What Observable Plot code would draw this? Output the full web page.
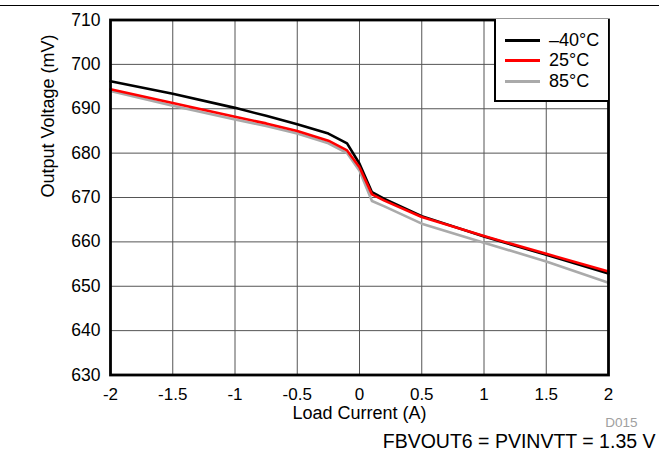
<!DOCTYPE html>
<html>
<head>
<meta charset="utf-8">
<script src="https://cdn.jsdelivr.net/npm/d3@7"></script>
<script src="https://cdn.jsdelivr.net/npm/@observablehq/plot@0.6"></script>
<style>
  html, body { margin: 0; padding: 0; background: #fff; }
  #wrap { position: relative; width: 671px; height: 462px; font-family: "Liberation Sans", Arial, sans-serif; }
  #topline { position: absolute; left: 0; top: 4.5px; width: 659px; height: 0; border-top: 1.8px solid #000; }
  #legend { position: absolute; left: 494px; top: 19px; width: 114px; height: 83px; border: 2.6px solid #000; border-top: none; border-right: none; background: #fff; box-sizing: border-box; }
  .item { position: absolute; left: 9px; height: 20px; display: flex; align-items: center; font-size: 18px; color: #000; }
  .sw { display: inline-block; width: 35px; height: 0; border-top: 3px solid; margin-right: 9px; }
</style>
</head>
<body>
<div id="wrap">
  <div id="topline"></div>
  <div id="chart"></div>
  <div id="legend"></div>
</div>
<script>
const xs = [-2, -1.5, -1, -0.75, -0.5, -0.25, -0.1, 0, 0.1, 0.2, 0.5, 1, 1.5, 2];
const vMinus40 = [696.2, 693.4, 690.2, 688.4, 686.5, 684.4, 682.2, 677.6, 671.2, 669.7, 665.8, 661.2, 657.1, 652.9];
const v25 = [694.4, 691.3, 688.2, 686.7, 685.0, 682.8, 680.6, 676.8, 670.7, 669.3, 665.6, 661.3, 657.3, 653.3];
const v85 = [694.0, 690.7, 687.6, 686.1, 684.4, 682.2, 680.0, 676.0, 669.2, 668.0, 664.1, 659.8, 655.6, 650.8];

const seriesNames = ["\u201340\u00b0C", "25\u00b0C", "85\u00b0C"];
const seriesColors = ["#000000", "#ff0000", "#aaaaaa"];
const drawOrder = [2, 0, 1];

const xTicks = [-2, -1.5, -1, -0.5, 0, 0.5, 1, 1.5, 2];
const xTickLabels = ["-2", "-1.5", "-1", "-0.5", "0", "0.5", "1", "1.5", "2"];
const yTicks = [630, 640, 650, 660, 670, 680, 690, 700, 710];
const yTickLabels = ["630", "640", "650", "660", "670", "680", "690", "700", "710"];

const xTitle = "Load Current (A)";
const yTitle = "Output Voltage (mV)";
const codeText = "D015";
const captionText = "FBVOUT6 = PVINVTT = 1.35 V";

const allSeries = [vMinus40, v25, v85];
const rows = [];
for (const s of drawOrder) {
  xs.forEach((x, i) => rows.push({x, v: allSeries[s][i], series: seriesNames[s]}));
}

const chart = Plot.plot({
  width: 671,
  height: 462,
  marginTop: 19.5,
  marginLeft: 110,
  marginRight: 63,
  marginBottom: 87.5,
  style: {fontFamily: "'Liberation Sans', Arial, sans-serif", fontSize: "18px", background: "#fff", color: "#000", overflow: "visible"},
  x: {domain: [-2, 2]},
  y: {domain: [630, 710]},
  color: {domain: seriesNames, range: seriesColors},
  marks: [
    Plot.gridX(xTicks, {stroke: "#555", strokeOpacity: 1, strokeWidth: 1}),
    Plot.gridY(yTicks, {stroke: "#555", strokeOpacity: 1, strokeWidth: 1}),
    Plot.line(rows, {x: "x", y: "v", z: "series", stroke: "series", strokeWidth: 2.6}),
    Plot.frame({stroke: "#000", strokeWidth: 2.8}),
    Plot.axisX(xTicks, {tickSize: 0, tickPadding: 13, fontSize: 17, label: null, tickFormat: (d, i) => xTickLabels[i]}),
    Plot.axisY(yTicks, {tickSize: 0, tickPadding: 10, fontSize: 17.5, label: null, tickFormat: (d, i) => yTickLabels[i]}),
    Plot.text([xTitle], {frameAnchor: "bottom", dy: 44, fontSize: 18}),
    Plot.text([yTitle], {frameAnchor: "left", rotate: -90, dx: -62.5, fontSize: 18}),
    Plot.text([codeText], {frameAnchor: "bottom-right", dx: 29, dy: 51.5, fontSize: 13.5, fill: "#a0a0a0", textAnchor: "end"}),
    Plot.text([captionText], {frameAnchor: "bottom-right", dx: 47, dy: 72.5, fontSize: 19.5, textAnchor: "end"})
  ]
});
document.getElementById("chart").appendChild(chart);

const legend = document.getElementById("legend");
seriesNames.forEach((name, i) => {
  const it = document.createElement("div");
  it.className = "item";
  it.style.top = (11 + i * 20.5) + "px";
  const sw = document.createElement("span");
  sw.className = "sw";
  sw.style.borderTopColor = seriesColors[i];
  it.appendChild(sw);
  it.appendChild(document.createTextNode(name));
  legend.appendChild(it);
});
</script>
</body>
</html>
